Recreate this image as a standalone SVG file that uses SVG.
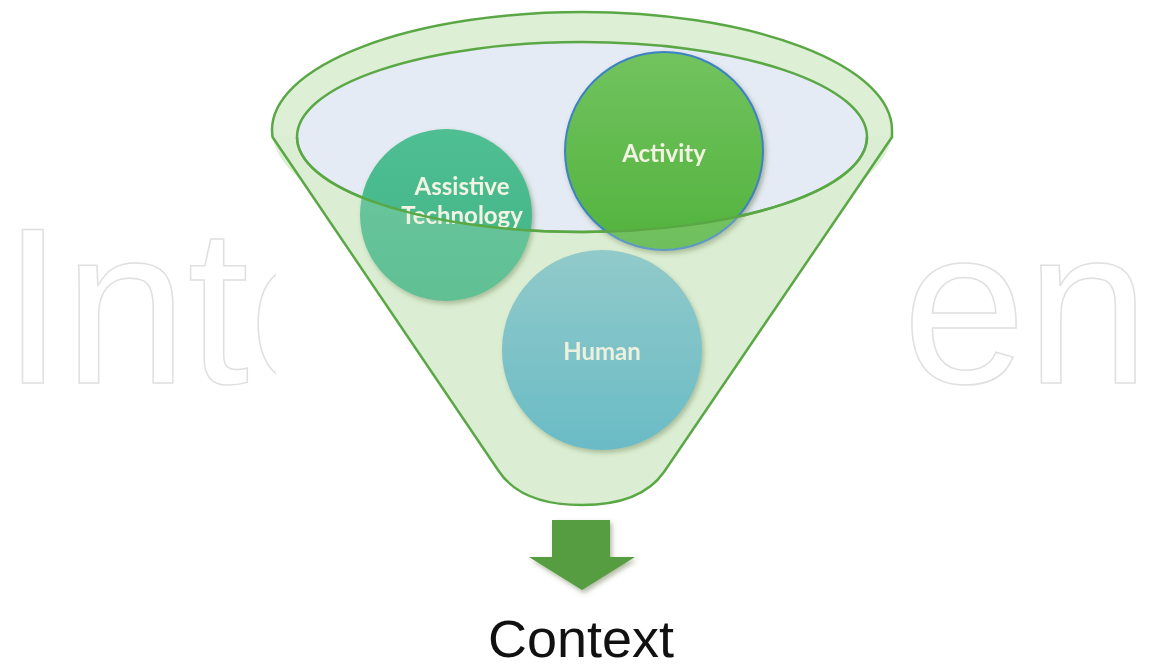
<svg xmlns="http://www.w3.org/2000/svg" width="1151" height="669" viewBox="0 0 1151 669">
<style>
.wm{font-family:"Liberation Sans",Arial,sans-serif;font-size:222px;fill:#ffffff;stroke:#e0e0e0;stroke-width:1.5}
.lbl{font-family:Lato,"Open Sans",sans-serif;font-size:24px;font-weight:700;fill:#f3f3e4;text-anchor:middle}
.edge{fill:none;stroke:#5aa845;stroke-width:2.5}
</style>
<defs>
<linearGradient id="gAT" x1="0" y1="0" x2="0" y2="1"><stop offset="0" stop-color="#4fbf93"/><stop offset="1" stop-color="#3fb384"/></linearGradient>
<linearGradient id="gAc" x1="0" y1="0" x2="0" y2="1"><stop offset="0" stop-color="#72c35f"/><stop offset="1" stop-color="#52b33d"/></linearGradient>
<linearGradient id="gHu" x1="0" y1="0" x2="0" y2="1"><stop offset="0" stop-color="#7ec0c9"/><stop offset="1" stop-color="#4caec4"/></linearGradient>
<filter id="sh" x="-20%" y="-20%" width="140%" height="140%"><feDropShadow dx="2" dy="3" stdDeviation="2.5" flood-color="#556633" flood-opacity="0.45"/></filter>
<clipPath id="wmL"><rect x="0" y="0" width="276" height="669"/></clipPath>
<clipPath id="wmR"><rect x="896" y="0" width="255" height="669"/></clipPath>
</defs>
<g id="watermark">
<text class="wm" x="2" y="383" clip-path="url(#wmL)">Inte</text>
<text class="wm" x="779" y="383" clip-path="url(#wmR)">pen</text>
</g>
<g id="funnel">
<path d="M272,135 L498,470 C512,492 540,505 582,505 C624,505 650,492 664,472 L893,135 Z" fill="#ddefd5"/>
<ellipse cx="582" cy="130" rx="310" ry="118" fill="#ddefd5"/>
<path class="edge" d="M272,130 A310,118 0 0 1 892,130"/>
<ellipse cx="582" cy="137" rx="285" ry="95" fill="#e5ebf4" stroke="#5aa845" stroke-width="2.5"/>
</g>
<g id="assistive-technology" filter="url(#sh)">
<circle cx="446" cy="215" r="86" fill="url(#gAT)"/>
<text class="lbl" x="462" y="195">Assistive</text>
<text class="lbl" x="462" y="224">Technology</text>
</g>
<g id="activity" filter="url(#sh)">
<circle cx="664" cy="151" r="99" fill="url(#gAc)" stroke="#3d82c4" stroke-width="2"/>
<text class="lbl" x="664" y="162">Activity</text>
</g>
<g id="human" filter="url(#sh)">
<circle cx="602" cy="350" r="100" fill="url(#gHu)"/>
<text class="lbl" x="602" y="360">Human</text>
</g>
<g id="funnel-front">
<path d="M272,135 L498,470 C512,492 540,505 582,505 C624,505 650,492 664,472 L893,135 L867,137 A285,95 0 0 1 297,137 Z" fill="#d8eecf" fill-opacity="0.22"/>
<path class="edge" d="M867,137 A285,95 0 0 1 297,137"/>
<path class="edge" d="M272,130 L272.5,137 L498,470 C512,492 540,505 582,505 C624,505 650,492 664,472 L892,137 L892,130"/>
</g>
<g id="connectors">
<path d="M552,520 H610 V557 H635 L582,590 L529,557 H552 Z" fill="#559d3f" filter="url(#sh)"/>
</g>
<g id="context">
<text x="581" y="657" font-family="Liberation Sans,Arial,sans-serif" font-size="51" fill="#111" text-anchor="middle" textLength="186" lengthAdjust="spacingAndGlyphs">Context</text>
</g>
</svg>
